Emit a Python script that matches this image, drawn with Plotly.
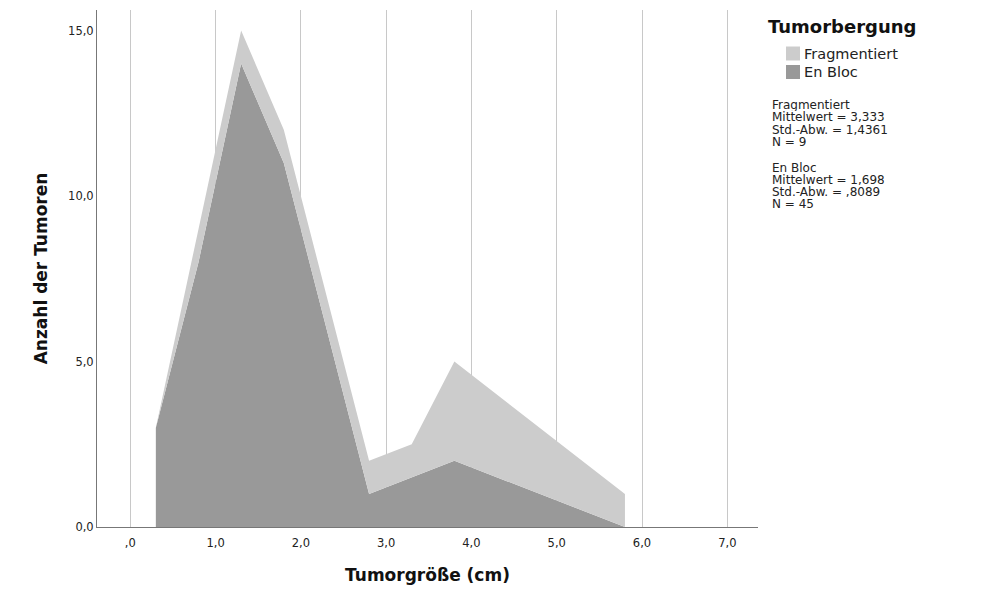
import plotly.graph_objects as go

# Data
x_vals = [0.3, 0.8, 1.3, 1.8, 2.8, 3.3, 3.8, 5.8]
en_bloc = [3, 8, 14, 11, 1, 1.5, 2, 0]
fragmentiert = [0, 1, 1, 1, 1, 1, 3, 1]

x_ticks = [0, 1, 2, 3, 4, 5, 6, 7]
x_ticktext = [",0", "1,0", "2,0", "3,0", "4,0", "5,0", "6,0", "7,0"]
y_ticks = [0, 5, 10, 15]
y_ticktext = ["0,0", "5,0", "10,0", "15,0"]

legend_title = "Tumorbergung"
legend_names = ["Fragmentiert", "En Bloc"]
stats_lines = [
    ["Fragmentiert", "Mittelwert = 3,333", "Std.-Abw. = 1,4361", "N = 9"],
    ["En Bloc", "Mittelwert = 1,698", "Std.-Abw. = ,8089", "N = 45"],
]

C_LIGHT = "#cccccc"
C_DARK = "#999999"
FONT = "DejaVu Sans"

# plot area in pixels
PL, PR, PT, PB = 97, 758, 10, 527

fig = go.Figure()
fig.add_trace(go.Scatter(
    x=x_vals, y=en_bloc, name="En Bloc", mode="lines",
    line=dict(width=0, color=C_DARK), fill="tozeroy", fillcolor=C_DARK,
    stackgroup="one", showlegend=False))
fig.add_trace(go.Scatter(
    x=x_vals, y=fragmentiert, name="Fragmentiert", mode="lines",
    line=dict(width=0, color=C_LIGHT), fill="tonexty", fillcolor=C_LIGHT,
    stackgroup="one", showlegend=False))

fig.update_layout(
    width=1000, height=597,
    margin=dict(l=PL, r=1000 - PR, t=PT, b=597 - PB),
    paper_bgcolor="white", plot_bgcolor="white",
    font=dict(family=FONT, color="#222"),
    xaxis=dict(
        range=[-0.39, 7.36], tickvals=x_ticks, ticktext=x_ticktext,
        showgrid=True, gridcolor="#c8c8c8", gridwidth=1,
        showline=True, linecolor="#777", linewidth=1, ticks="",
        ticklabelstandoff=5,
        zeroline=False, tickfont=dict(size=11.5, family=FONT, color="#222"),
        title=dict(text="<b>Tumorgröße (cm)</b>", font=dict(size=17, family=FONT, color="#111"), standoff=20),
    ),
    yaxis=dict(
        range=[0, 15.62], tickvals=y_ticks, ticktext=y_ticktext,
        showgrid=False, showline=True, linecolor="#777", linewidth=1, ticks="",
        zeroline=False, tickfont=dict(size=11.5, family=FONT, color="#222"),
        title=dict(text="<b>Anzahl der Tumoren</b>", font=dict(size=17, family=FONT, color="#111"), standoff=16),
    ),
)

def px_x(p):
    return (p - PL) / (PR - PL)

def px_y(p):
    return (PB - p) / (PB - PT)

# Legend (manual)
fig.add_annotation(x=px_x(767), y=px_y(27), xref="paper", yref="paper", text="<b>" + legend_title + "</b>",
                   showarrow=False, xanchor="left", yanchor="middle", borderpad=0,
                   font=dict(size=18, family=FONT, color="#111"))
for i, (name, col) in enumerate(zip(legend_names, [C_LIGHT, C_DARK])):
    yc = 53.5 + i * 18.5
    fig.add_shape(type="rect", xref="paper", yref="paper",
                  x0=px_x(786), x1=px_x(800), y0=px_y(yc - 7), y1=px_y(yc + 7),
                  fillcolor=col, line=dict(width=0))
    fig.add_annotation(x=px_x(803), y=px_y(yc), xref="paper", yref="paper", text=name,
                       showarrow=False, xanchor="left", yanchor="middle", borderpad=0,
                       font=dict(size=14.5, family=FONT, color="#222"))

# Statistics text
for g, lines in enumerate(stats_lines):
    for j, t in enumerate(lines):
        yc = 104.5 + g * 62.5 + j * 12.3
        fig.add_annotation(x=px_x(771), y=px_y(yc), xref="paper", yref="paper", text=t,
                           showarrow=False, xanchor="left", yanchor="middle", borderpad=0,
                           height=13, valign="middle",
                           font=dict(size=12, family=FONT, color="#222"))

fig.write_html("out.html")
